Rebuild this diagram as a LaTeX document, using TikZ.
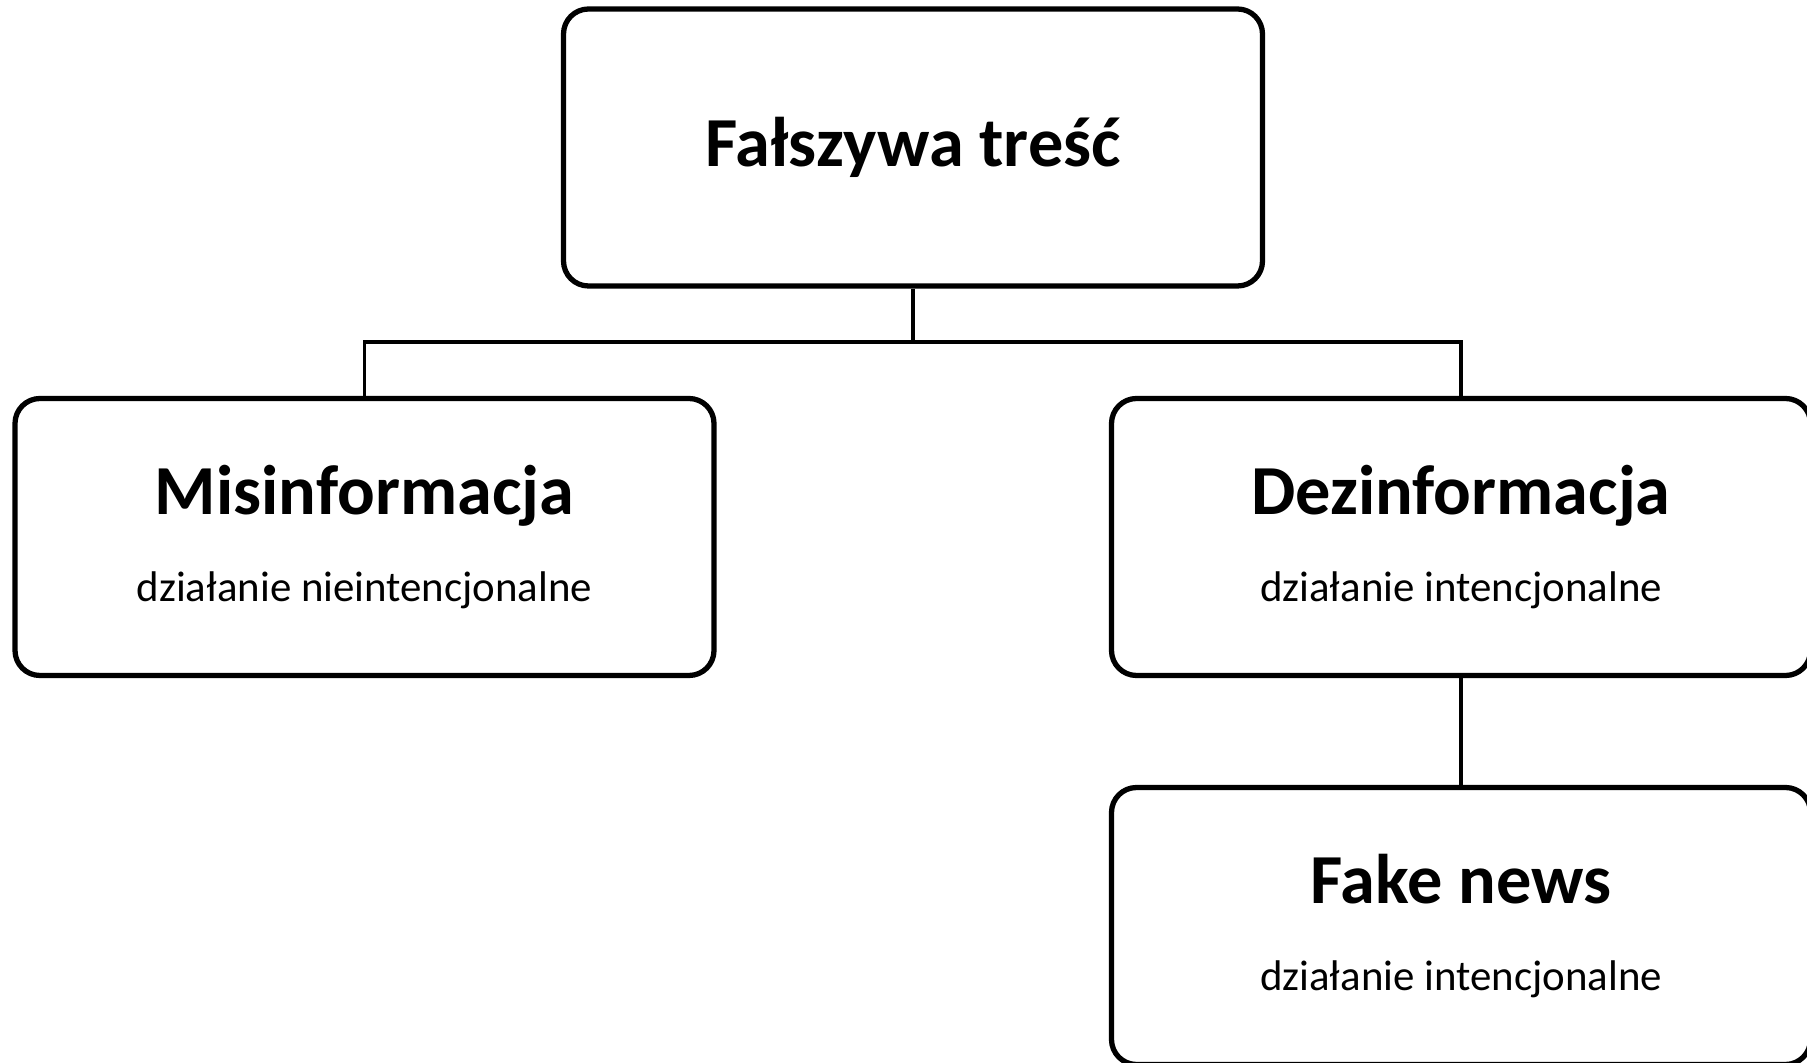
\documentclass[tikz,border=0pt]{standalone}
\usepackage{fontspec}
\setmainfont{Carlito}
\usetikzlibrary{positioning}

\begin{document}
\begin{tikzpicture}[
  box/.style={draw, rounded corners=0.25cm, line width=1.5pt, minimum width=6.99cm, minimum height=2.77cm, align=center, font=\fontsize{12.2}{24.5}\selectfont},
  headline/.style={font=\fontsize{20}{24}\selectfont\bfseries},
  conn/.style={draw, line width=0.9pt}
  ]
	\useasboundingbox (0,0) rectangle (18.07,10.62);

	\node[box, headline] (root) at (9.13,9.145) {Fałszywa treść};

	\node[box] (mis) at (3.645,5.25) {{\fontsize{20}{24}\selectfont\bfseries Misinformacja}\\ działanie nieintencjonalne};
	\node[box] (dez) at (14.61,5.25) {{\fontsize{20}{24}\selectfont\bfseries Dezinformacja}\\ działanie intencjonalne};
	\node[box] (fake) at (14.61,1.36) {{\fontsize{20}{24}\selectfont\bfseries Fake news}\\ działanie intencjonalne};

	\coordinate (split) at (9.13,7.20);

	\draw[conn] (root.south) -- (split);
	\draw[conn] (mis.north) |- (split) -| (dez.north);
	\draw[conn] (dez.south) -- (fake.north);
\end{tikzpicture}
\end{document}
